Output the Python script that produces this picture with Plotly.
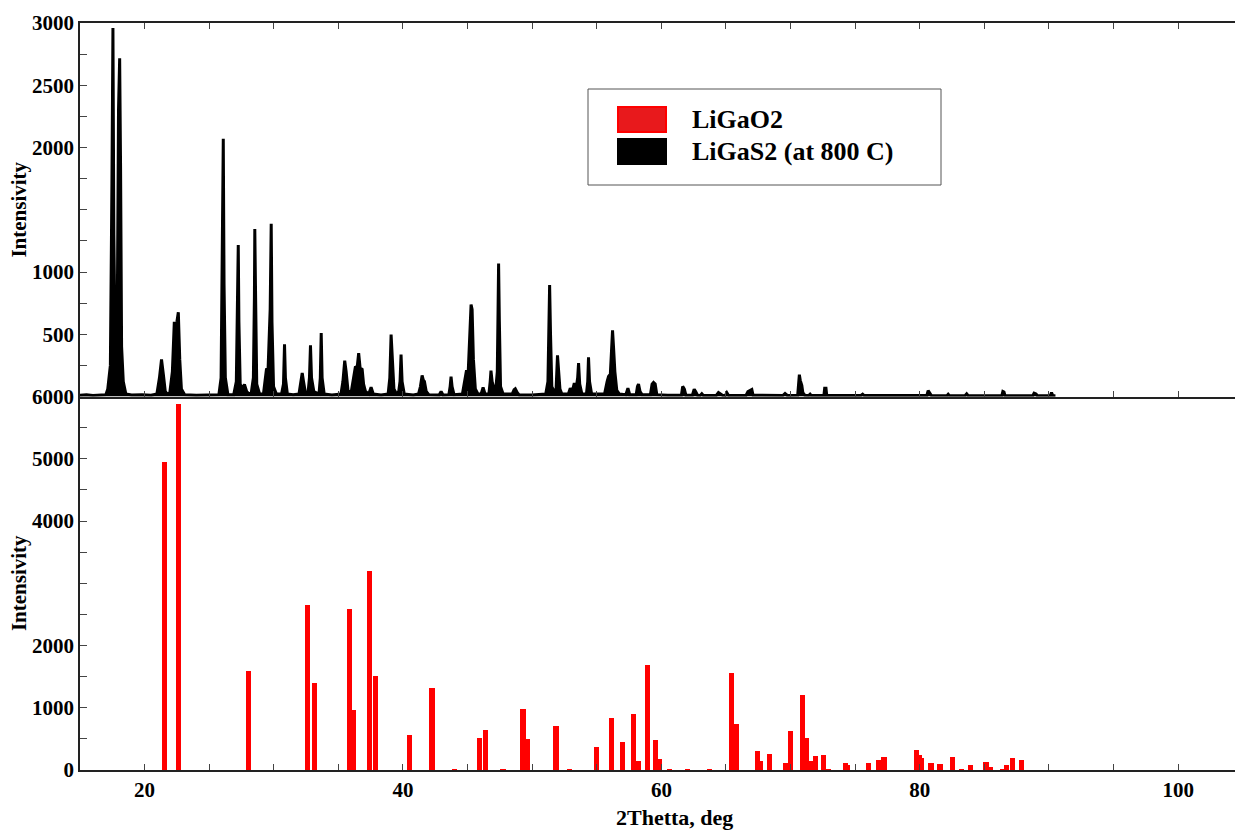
import plotly.graph_objects as go
from plotly.subplots import make_subplots

# ---------------- data ----------------
# LiGaS2 (at 800 C): measured diffractogram traced as a polyline (2theta, counts)
ligas2_2theta = [
    15.0, 15.5, 16.0, 16.5, 17.0,
    17.15, 17.35, 17.47, 17.55, 17.62, 17.7, 17.8, 17.9, 17.98, 18.07, 18.14, 18.22, 18.35, 18.55,
    19.0, 19.8, 20.5,
    20.95, 21.15, 21.31, 21.45, 21.6, 21.75,
    21.95, 22.15, 22.3, 22.4, 22.5, 22.61, 22.72, 22.85, 23.1,
    24.0, 25.0,
    25.75, 25.92, 26.02, 26.09, 26.15, 26.25, 26.45,
    26.9, 27.1, 27.2, 27.25, 27.3, 27.4, 27.55, 27.73, 27.9, 28.1,
    28.25, 28.42, 28.5, 28.53, 28.58, 28.68, 28.9,
    29.2, 29.35, 29.44, 29.55, 29.72, 29.8, 29.86, 29.98, 30.2,
    30.6, 30.75, 30.83, 30.9, 31.05,
    31.5,
    31.95, 32.1, 32.2, 32.3, 32.45,
    32.65, 32.76, 32.84, 32.92, 33.1,
    33.5, 33.6, 33.67, 33.74, 33.9,
    34.5,
    35.2, 35.35, 35.49, 35.6, 35.75,
    36.0, 36.15, 36.32, 36.45, 36.57, 36.68, 36.84, 36.95, 37.1,
    37.35, 37.53, 37.7,
    38.3,
    38.85, 38.98, 39.08, 39.16, 39.3, 39.45,
    39.65, 39.77, 39.85, 39.93, 40.1,
    40.8,
    41.2, 41.35, 41.48, 41.58, 41.66, 41.8, 42.0,
    42.8, 42.95, 43.1,
    43.55, 43.65, 43.72, 43.8, 43.95,
    44.6, 44.8, 44.9, 45.05, 45.18, 45.27, 45.35, 45.45, 45.6, 45.8,
    46.05, 46.2, 46.35,
    46.65, 46.75, 46.81, 46.9, 47.05, 47.2,
    47.3, 47.36, 47.4, 47.46, 47.55, 47.75,
    48.45, 48.6, 48.69, 48.85, 49.0,
    50.0,
    51.05, 51.22, 51.3, 51.35, 51.42, 51.52, 51.7,
    51.85, 51.96, 52.05, 52.15, 52.3,
    52.8, 52.95, 53.1, 53.26, 53.4, 53.52, 53.59, 53.68, 53.85,
    54.2, 54.3, 54.36, 54.44, 54.6,
    55.6, 55.8, 55.91, 56.05, 56.15, 56.22, 56.3, 56.4, 56.55, 56.75,
    57.25, 57.41, 57.55,
    58.05, 58.15, 58.23, 58.35, 58.5,
    59.15, 59.28, 59.39, 59.52, 59.65,
    60.5,
    61.55, 61.65, 61.78, 61.9,
    62.4, 62.54, 62.65, 62.8,
    63.0, 63.13, 63.25,
    64.25, 64.42, 64.6, 64.75,
    64.95, 65.07, 65.2,
    66.55, 66.7, 66.85, 67.0, 67.1,
    68.0,
    69.4, 69.57, 69.75,
    70.55, 70.62, 70.68, 70.75, 70.87, 70.95, 71.1,
    71.4, 71.51, 71.6,
    72.58, 72.64, 72.74, 72.8,
    75.45, 75.58, 75.7,
    78.0,
    80.55, 80.65, 80.8, 80.9,
    82.1, 82.2, 82.3,
    83.5, 83.63, 83.75,
    86.35, 86.43, 86.52, 86.6,
    88.75, 88.85, 89.0, 89.1,
    90.1, 90.2, 90.3, 90.5,
]
ligas2_counts = [
    10, 14, 8, 12, 15,
    60, 250, 1700, 2960, 1300, 600, 500, 900, 2300, 2716, 1850, 400, 120, 20,
    12, 15, 10,
    20, 150, 298, 180, 40, 20,
    30, 200, 600, 560, 600, 677, 300, 60, 15,
    10, 12,
    15, 150, 1000, 2071, 900, 150, 15,
    15, 120, 700, 1217, 600, 100, 60, 97, 40, 20,
    25, 150, 800, 1346, 900, 100, 20,
    20, 150, 226, 200, 700, 1387, 600, 80, 20,
    20, 100, 419, 150, 20,
    15,
    20, 130, 188, 120, 30,
    30, 150, 411, 150, 40,
    20, 150, 510, 150, 20,
    12,
    20, 120, 288, 200, 40,
    40, 150, 242, 230, 349, 230, 218, 100, 40,
    20, 75, 20,
    12,
    20, 150, 497, 350, 60, 30,
    25, 120, 336, 120, 20,
    12,
    20, 80, 169, 130, 121, 40, 15,
    12, 40, 12,
    15, 80, 159, 80, 15,
    20, 150, 201, 200, 500, 739, 700, 300, 60, 20,
    20, 73, 20,
    20, 120, 207, 120, 60, 80,
    200, 700, 1069, 600, 80, 20,
    20, 55, 62, 30, 12,
    12,
    20, 120, 500, 895, 500, 80, 40,
    60, 330, 150, 60, 20,
    20, 67, 40, 107, 60, 150, 268, 100, 20,
    20, 120, 314, 120, 20,
    20, 120, 161, 180, 400, 532, 390, 200, 50, 20,
    15, 67, 15,
    15, 80, 99, 40, 15,
    15, 100, 113, 100, 15,
    10,
    10, 81, 60, 10,
    10, 59, 40, 10,
    8, 22, 8,
    8, 32, 20, 8,
    8, 30, 8,
    8, 40, 50, 56, 10,
    8,
    8, 24, 8,
    10, 100, 175, 130, 89, 30, 10,
    8, 19, 8,
    8, 67, 67, 8,
    8, 19, 8,
    8,
    8, 48, 25, 8,
    6, 18, 6,
    6, 22, 6,
    6, 40, 35, 6,
    6, 27, 20, 6,
    6, 32, 6, 6,
]

# LiGaO2: reference line pattern (2theta, intensity)
ligao2_2theta = [
    21.55, 22.61, 28.02, 32.63, 33.17, 35.85, 36.14, 37.38, 37.87, 40.50,
    42.25, 43.98, 45.89, 46.40, 47.74, 49.29, 49.64, 51.84, 52.87, 55.01,
    56.17, 57.02, 57.84, 58.23, 58.93, 59.57, 59.83, 60.60, 62.05, 63.70,
    65.40, 65.78, 67.43, 67.64, 68.36, 69.63, 70.01, 70.91, 71.25, 71.51,
    71.90, 72.54, 72.93, 74.27, 74.43, 76.02, 76.85, 77.23, 79.76, 79.94,
    80.09, 80.87, 81.56, 82.54, 83.24, 83.94, 85.12, 85.43, 86.41, 86.72,
    87.15, 87.85,
]
ligao2_intensity = [
    4956, 5882, 1593, 2663, 1412, 2593, 973, 3203, 1519, 577,
    1331, 16, 519, 652, 20, 989, 508, 722, 25, 374,
    839, 454, 909, 160, 1700, 497, 187, 16, 16, 16,
    1567, 749, 321, 160, 267, 118, 642, 1219, 519, 160,
    241, 257, 16, 118, 95, 118, 171, 214, 337, 250,
    203, 118, 107, 214, 16, 91, 134, 64, 32, 91,
    203, 171,
]

x_tick_vals = [15, 20, 25, 30, 35, 40, 45, 50, 55, 60, 65, 70, 75, 80, 85, 90, 95, 100]
x_tick_text = ["", "20", "", "", "", "40", "", "", "", "60", "", "", "", "80", "", "", "", "100"]

top_y_tick_vals = [0, 250, 500, 750, 1000, 1250, 1500, 1750, 2000, 2250, 2500, 2750, 3000]
top_y_tick_text = ["", "", "500", "", "1000", "", "", "", "2000", "", "2500", "", "3000"]

bot_y_tick_vals = [0, 500, 1000, 1500, 2000, 2500, 3000, 3500, 4000, 4500, 5000, 5500, 6000]
bot_y_tick_text = ["0", "", "1000", "", "2000", "", "", "", "4000", "", "5000", "", "6000"]

series_names = ["LiGaO2", "LiGaS2 (at 800 C)"]
series_colors = ["#ff0000", "#000000"]

# ---------------- figure ----------------
FONT = "Liberation Serif"
fig = make_subplots(rows=2, cols=1, shared_xaxes=True, vertical_spacing=0)

fig.add_trace(go.Scatter(
    x=ligas2_2theta, y=ligas2_counts, mode="lines", name=series_names[1],
    line=dict(color=series_colors[1], width=3), fill="tozeroy",
    fillcolor=series_colors[1], showlegend=False), row=1, col=1)

fig.add_trace(go.Bar(
    x=ligao2_2theta, y=ligao2_intensity, name=series_names[0], width=0.40,
    marker=dict(color=series_colors[0], line=dict(width=0), cornerradius=2),
    showlegend=False), row=2, col=1)

axis_line = dict(showline=True, linecolor="#222222", linewidth=1.5,
                 showgrid=False, zeroline=False, ticks="inside",
                 tickcolor="#444444", tickwidth=1)

fig.update_xaxes(range=[15, 104.4], tickmode="array", tickvals=x_tick_vals,
                 ticktext=x_tick_text, ticklen=6, **axis_line)
fig.update_xaxes(mirror="ticks", showticklabels=False, row=1, col=1)
fig.update_xaxes(mirror=False, row=2, col=1,
                 tickfont=dict(family=FONT, size=21, color="black", weight="bold"))

fig.update_yaxes(range=[0, 3000], tickmode="array", tickvals=top_y_tick_vals,
                 ticktext=top_y_tick_text, ticklen=7, row=1, col=1,
                 title=dict(text="Intensivity", standoff=0,
                            font=dict(family=FONT, size=21, color="black", weight="bold")),
                 tickfont=dict(family=FONT, size=21, color="black", weight="bold"),
                 **axis_line)
fig.update_yaxes(range=[0, 6000], tickmode="array", tickvals=bot_y_tick_vals,
                 ticktext=bot_y_tick_text, ticklen=7, row=2, col=1,
                 title=dict(text="Intensivity", standoff=0,
                            font=dict(family=FONT, size=21, color="black", weight="bold")),
                 tickfont=dict(family=FONT, size=21, color="black", weight="bold"),
                 **axis_line)

# x-axis title (placed as annotation to match the reference offset)
fig.add_annotation(text="2Thetta, deg", xref="paper", yref="paper",
                   x=0.5147, y=-0.0827, xanchor="center", yanchor="bottom",
                   showarrow=False,
                   font=dict(family=FONT, size=22, color="black", weight="bold"))

# custom legend box (paper coords: plot spans x 80..1235 px, y 23..770 px)
def px_x(p):
    return (p - 80) / 1155

def px_y(p):
    return (770 - p) / 747

fig.add_shape(type="rect", xref="paper", yref="paper",
              x0=px_x(588), x1=px_x(941), y0=px_y(185), y1=px_y(89),
              line=dict(color="#555555", width=1), fillcolor="white", layer="above")
for i, (yt, yb) in enumerate([(107, 132), (139, 164)]):
    fig.add_shape(type="rect", xref="paper", yref="paper",
                  x0=px_x(618), x1=px_x(666), y0=px_y(yb), y1=px_y(yt),
                  line=dict(color=series_colors[i], width=2),
                  fillcolor=series_colors[i] if i == 1 else "#e8191c", layer="above")
    fig.add_annotation(text=series_names[i], xref="paper", yref="paper",
                       x=px_x(690), y=px_y((yt + yb) / 2), xanchor="left",
                       yanchor="middle", showarrow=False,
                       font=dict(family=FONT, size=26, color="black", weight="bold"))

fig.update_layout(
    width=1235, height=832,
    margin=dict(l=80, r=0, t=23, b=62),
    plot_bgcolor="white", paper_bgcolor="white",
    font=dict(family=FONT, size=21, color="black", weight="bold"),
    barmode="overlay", bargap=0,
)

fig.write_html("out.html", config={"displayModeBar": False},
               post_script="document.body.style.margin='0';"
                           "document.body.style.overflow='hidden';")
